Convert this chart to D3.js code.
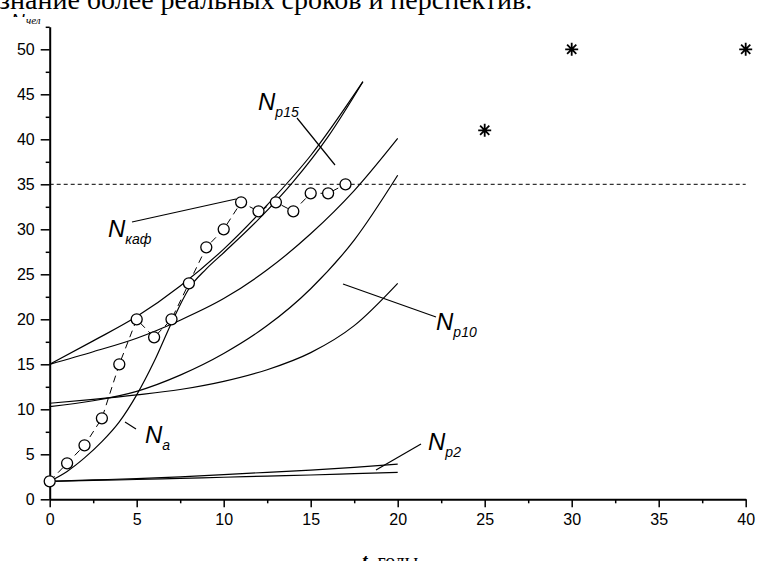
<!DOCTYPE html>
<html>
<head>
<meta charset="utf-8">
<script src="https://cdn.jsdelivr.net/npm/d3@7"></script>
<style>
  body { margin: 0; background: #fff; }
  svg { display: block; }
  .tick text { font-family: Arial, "Liberation Sans", sans-serif; font-size: 16px; fill: #000; }
  .lbl { font-family: Arial, "Liberation Sans", sans-serif; font-style: italic; fill: #000; }
</style>
</head>
<body>
<svg id="chart" width="758" height="561"></svg>
<script>
// department staff (circles)
const kafYears = [0, 1, 2, 3, 4, 5, 6, 7, 8, 9, 10, 11, 12, 13, 14, 15, 16, 17];
const kafStaff = [2, 4, 6, 9, 15, 20, 18, 20, 24, 28, 30, 33, 32, 33, 32, 34, 34, 35];

// planned points (stars)
const planYears = [25, 30, 40];
const planStaff = [41, 50, 50];

// model curves
const naYears = [0, 1, 2, 3, 4, 5, 6, 7, 8, 9, 10, 12, 14, 16, 18];
const naStaff = [2, 3.1, 4.6, 6.4, 8.6, 11.6, 15.3, 19.6, 23.4, 25.6, 27.4, 31.1, 35.3, 40.3, 46.4];

const p15aYears = [0, 2.5, 5, 7.5, 10, 12.5, 15, 18];
const p15aStaff = [15, 17.6, 20.3, 23.7, 27.8, 32.7, 38.2, 46.4];

const curveYears = [0, 2.5, 5, 7.5, 10, 12.5, 15, 17.5, 20];
const p15bStaff = [15, 16.4, 17.9, 19.9, 22.3, 25.5, 29.5, 34.3, 40.1];
const p10aStaff = [10.3, 10.95, 12.0, 13.8, 16.2, 19.3, 23.4, 28.8, 36.0];
const p10bStaff = [10.67, 11.1, 11.6, 12.2, 13.1, 14.4, 16.3, 19.3, 24.0];
const p2aStaff = [2, 2.15, 2.3, 2.5, 2.75, 3.0, 3.25, 3.55, 3.9];
const p2bStaff = [2, 2.1, 2.2, 2.33, 2.45, 2.58, 2.7, 2.85, 3.0];

const planLevel = 35;

const xTicks = [0, 5, 10, 15, 20, 25, 30, 35, 40];
const xMinor = [2.5, 7.5, 12.5, 17.5, 22.5, 27.5, 32.5, 37.5];
const yTicks = [0, 5, 10, 15, 20, 25, 30, 35, 40, 45, 50];
const yMinor = [2.5, 7.5, 12.5, 17.5, 22.5, 27.5, 32.5, 37.5, 42.5, 47.5, 52.5];

const svg = d3.select("#chart");

const x = d3.scaleLinear().domain([0, 40]).range([49.7, 745.7]);
const y = d3.scaleLinear().domain([0, 52.5]).range([499.3, 26.8]);

// top text line, cut by the page edge
svg.append("text")
  .attr("x", -1).attr("y", 9)
  .style("font-family", "'Liberation Serif', 'Times New Roman', serif")
  .style("font-size", "28px")
  .text("знание более реальных сроков и перспектив.");

// axes
svg.append("g")
  .attr("transform", `translate(0,${y(0)})`)
  .call(d3.axisBottom(x).tickValues(xTicks).tickSize(8).tickSizeOuter(0).tickPadding(6));
svg.append("g")
  .attr("transform", `translate(0,${y(0)})`)
  .call(d3.axisBottom(x).tickValues(xMinor).tickSize(4).tickFormat(""))
  .select(".domain").remove();

svg.append("g")
  .attr("transform", `translate(${x(0)},0)`)
  .call(d3.axisLeft(y).tickValues(yTicks).tickSize(9).tickSizeOuter(0).tickPadding(6));
svg.append("g")
  .attr("transform", `translate(${x(0)},0)`)
  .call(d3.axisLeft(y).tickValues(yMinor).tickSize(4).tickFormat(""))
  .select(".domain").remove();

svg.selectAll(".domain").attr("stroke", "#000").attr("stroke-width", 2);
svg.selectAll(".tick line").attr("stroke", "#000").attr("stroke-width", 1.5);

// dashed level line
svg.append("line")
  .attr("x1", x(0)).attr("x2", x(40))
  .attr("y1", y(planLevel)).attr("y2", y(planLevel))
  .attr("stroke", "#000").attr("stroke-width", 1)
  .attr("stroke-dasharray", "4,3");

// model curves
const line = d3.line()
  .x(d => x(d[0]))
  .y(d => y(d[1]))
  .curve(d3.curveMonotoneX);

const curves = [
  [naYears, naStaff],
  [p15aYears, p15aStaff],
  [curveYears, p15bStaff],
  [curveYears, p10aStaff],
  [curveYears, p10bStaff],
  [curveYears, p2aStaff],
  [curveYears, p2bStaff]
];

svg.append("g").selectAll("path")
  .data(curves)
  .enter().append("path")
  .attr("d", c => line(d3.zip(c[0], c[1])))
  .attr("fill", "none")
  .attr("stroke", "#000")
  .attr("stroke-width", 1.2);

// staff series: dashed line + circles
const kaf = d3.zip(kafYears, kafStaff);
svg.append("path")
  .attr("d", d3.line().x(d => x(d[0])).y(d => y(d[1]))(kaf))
  .attr("fill", "none")
  .attr("stroke", "#000")
  .attr("stroke-width", 1)
  .attr("stroke-dasharray", "7,5");

svg.append("g").selectAll("circle")
  .data(kaf)
  .enter().append("circle")
  .attr("cx", d => x(d[0]))
  .attr("cy", d => y(d[1]))
  .attr("r", 5.5)
  .attr("fill", "#fff")
  .attr("stroke", "#000")
  .attr("stroke-width", 1.3);

// stars
const star = "M-6.5,0H6.5M0,-6.5V6.5M-4.6,-4.6L4.6,4.6M-4.6,4.6L4.6,-4.6";
svg.append("g").selectAll("path")
  .data(d3.zip(planYears, planStaff))
  .enter().append("path")
  .attr("transform", d => `translate(${x(d[0])},${y(d[1])})`)
  .attr("d", star)
  .attr("stroke", "#000")
  .attr("stroke-width", 1.8);

// labels with pointer lines
function label(tx, ty, sub, p) {
  const t = svg.append("text").attr("class", "lbl").attr("x", tx).attr("y", ty)
    .style("font-size", "24px");
  t.append("tspan").text("N");
  t.append("tspan").attr("dy", 7).style("font-size", "14px").text(sub);
  svg.append("line")
    .attr("x1", p[0]).attr("y1", p[1]).attr("x2", p[2]).attr("y2", p[3])
    .attr("stroke", "#000").attr("stroke-width", 1.2);
}
label(258, 110, "p15", [297, 118, 335, 165]);
label(108, 237, "каф", [132, 222, 236, 199]);
label(436, 330, "p10", [343, 284, 436, 317]);
label(145, 443, "a", [125, 422, 136, 429]);
label(428, 450, "p2", [421, 444, 376, 470]);

// y axis title (partly hidden)
svg.append("clipPath").attr("id", "nclip")
  .append("rect").attr("x", 0).attr("y", 12).attr("width", 30).attr("height", 5);
svg.append("text").attr("class", "lbl")
  .attr("x", 11).attr("y", 27)
  .attr("clip-path", "url(#nclip)")
  .style("font-size", "19px").text("N");
svg.append("text").attr("class", "lbl")
  .attr("x", 26).attr("y", 24)
  .style("font-family", "'Liberation Serif', serif")
  .style("font-size", "11px").text("чел");

// x axis title (cut at bottom)
const xt = svg.append("text")
  .attr("x", 362).attr("y", 568)
  .style("font-family", "'Liberation Serif', 'Times New Roman', serif")
  .style("font-size", "20px");
xt.append("tspan").style("font-weight", "bold").style("font-style", "italic").text("t");
xt.append("tspan").text(", годы");
</script>
</body>
</html>
